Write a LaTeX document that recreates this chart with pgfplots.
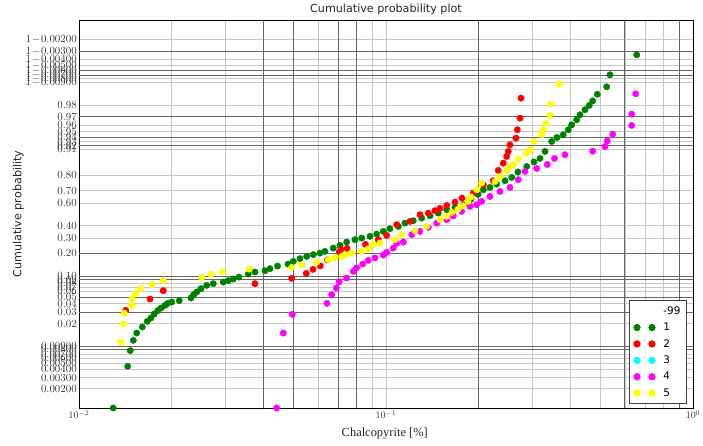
\documentclass[border=0pt]{standalone}
\usepackage{fontspec}
\setmainfont{Liberation Serif}
\newfontfamily\dejavu{DejaVu Sans}
\usepackage{pgfplots}
\pgfplotsset{compat=1.18}
\definecolor{mplgreen}{RGB}{0,128,0}
\definecolor{mplred}{RGB}{255,0,0}
\definecolor{mplcyan}{RGB}{0,255,255}
\definecolor{mplmag}{RGB}{255,0,255}
\definecolor{mplyel}{RGB}{255,255,0}
\newcommand{\om}[1]{$1\!-\!#1$}
\begin{document}
\begin{tikzpicture}
\useasboundingbox (-79bp,-38bp) rectangle (624bp,408bp);
\begin{axis}[
  scale only axis,
  width=614bp, height=388bp,
  xmode=log, xmin=0.01, xmax=1,
  y coord trafo/.code={\pgfmathparse{ln(#1/(1-#1))}},
  ymin=0.001, ymax=0.999,
  axis line style={black, line width=0.8bp},
  tick style={draw=none},
  xtick={0.01,0.1,1},
  xticklabels={$10^{-2}$,$10^{-1}$,$10^{0}$},
  minor xtick={0.02,0.03,0.04,0.05,0.06,0.07,0.08,0.09,0.2,0.3,0.4,0.5,0.6,0.7,0.8,0.9},
  ytick={0.002,0.003,0.004,0.005,0.006,0.007,0.008,0.009,0.02,0.03,0.04,0.05,0.06,0.07,0.08,0.09,0.10,0.20,0.30,0.40,0.60,0.70,0.80,0.91,0.92,0.93,0.94,0.95,0.96,0.97,0.98,0.991,0.992,0.993,0.994,0.995,0.996,0.997,0.998},
  yticklabels={$0.00200$,$0.00300$,$0.00400$,$0.00500$,$0.00600$,$0.00700$,$0.00800$,$0.00900$,$0.02$,$0.03$,$0.04$,$0.05$,$0.06$,$0.07$,$0.08$,$0.09$,$0.10$,$0.20$,$0.30$,$0.40$,$0.60$,$0.70$,$0.80$,$0.91$,$0.92$,$0.93$,$0.94$,$0.95$,$0.96$,$0.97$,$0.98$,\om{0.00900},\om{0.00800},\om{0.00700},\om{0.00600},\om{0.00500},\om{0.00400},\om{0.00300},\om{0.00200}},
  grid=both,
  major grid style={black!22, line width=0.7bp},
  minor grid style={black!22, line width=0.7bp},
  extra x ticks={0.04,0.05,0.07,0.08,0.2,0.6,0.9},
  extra x tick labels={},
  extra x tick style={grid=major, major grid style={black!60, line width=0.8bp}},
  extra y ticks={0.997,0.994,0.993,0.97,0.94,0.92,0.20,0.10,0.09,0.05,0.03,0.009,0.008},
  extra y tick labels={},
  extra y tick style={grid=major, major grid style={black!60, line width=0.8bp}},
  yticklabel style={font=\fontsize{10.5}{11}\selectfont, text=black!80, inner xsep=2bp},
  xticklabel style={font=\fontsize{10}{11}\selectfont, text=black!80, yshift=1bp},
  every axis title shift=0pt,
  title={Cumulative probability plot},
  title style={font=\dejavu\fontsize{11.2}{12}\selectfont, text=black!85, at={(axis description cs:0.5,1.026)}, anchor=center, yshift=0pt},
  xlabel={Chalcopyrite [\%]},
  xlabel style={font=\fontsize{12.5}{14}\selectfont, text=black!85, at={(axis description cs:0.498,-0.066)}, anchor=center},
  ylabel={Cumulative probability},
  ylabel style={font=\dejavu\fontsize{11.2}{12}\selectfont, text=black!85, at={(axis description cs:-0.099,0.5)}, anchor=center},
  legend style={at={(axis description cs:0.99,0.0103)}, anchor=south east, font=\dejavu\fontsize{10.5}{12}\selectfont, draw=black!75, line width=0.8bp, fill=white, row sep=3.2bp, inner xsep=4bp, inner ysep=4bp},
  legend cell align=left,
  legend image code/.code={\draw[#1, only marks] plot coordinates {(0bp,0bp) (15bp,0bp)}; \path (24bp,0bp);},
  legend entries={-99,1,2,3,4,5},
  every axis plot/.append style={only marks, mark=*, mark size=3.2bp},
]
\addlegendimage{empty legend}
% series 1 (green)
\addplot[mplgreen, mark options={draw=mplgreen, fill=mplgreen}] coordinates {
(0.01293,0.00103) (0.01441,0.00451) (0.01469,0.00786) (0.01503,0.01128) (0.01542,0.01457)
(0.01608,0.01797) (0.01669,0.02192) (0.01716,0.02458) (0.01759,0.02822) (0.01805,0.03170)
(0.01850,0.03468) (0.01906,0.03804) (0.01945,0.04072) (0.02004,0.04257) (0.02122,0.04463)
(0.02316,0.04875) (0.02364,0.05465) (0.02418,0.05964) (0.02497,0.06676) (0.02606,0.07443)
(0.02738,0.07871) (0.02952,0.08292) (0.03064,0.08678) (0.03181,0.09141) (0.03320,0.09747)
(0.03560,0.1072) (0.03743,0.1143) (0.04035,0.1193) (0.04189,0.1270) (0.04432,0.1376)
(0.04795,0.1462) (0.04990,0.1586) (0.05246,0.1718) (0.05517,0.1838) (0.05797,0.1930)
(0.06095,0.2020) (0.06328,0.2119) (0.06735,0.2321) (0.07082,0.2497) (0.07447,0.2722)
(0.07925,0.2894) (0.08334,0.3012) (0.08869,0.3142) (0.09327,0.3319) (0.09800,0.3536)
(0.1030,0.3757) (0.1097,0.3950) (0.1153,0.4234) (0.1227,0.4443) (0.1307,0.4672)
(0.1391,0.4885) (0.1480,0.5115) (0.1577,0.5416) (0.1678,0.5618) (0.1786,0.5853)
(0.1892,0.6301) (0.1994,0.6704) (0.2075,0.7062) (0.2181,0.7228) (0.2294,0.7457)
(0.2441,0.7679) (0.2567,0.7881) (0.2691,0.8189) (0.2873,0.8461) (0.3034,0.8657)
(0.3174,0.8795) (0.3295,0.9035) (0.3465,0.9303) (0.3605,0.9390) (0.3780,0.9443)
(0.3925,0.9529) (0.4026,0.9602) (0.4180,0.9665) (0.4285,0.9718) (0.4448,0.9763)
(0.4594,0.9796) (0.4713,0.9826) (0.4878,0.9862) (0.5234,0.98936) (0.5365,0.99303)
(0.6555,0.99656)
};
% series 2 (red)
\addplot[mplred, mark options={draw=mplred, fill=mplred}] coordinates {
(0.01420,0.03204) (0.01703,0.04711) (0.01882,0.06247) (0.03743,0.07871) (0.04930,0.0935)
(0.05500,0.1096) (0.05784,0.1243) (0.06109,0.1385) (0.06448,0.1659) (0.07045,0.2089)
(0.07135,0.2222) (0.07463,0.2302) (0.08575,0.2563) (0.09439,0.2894) (0.1005,0.3218)
(0.1084,0.4096) (0.1197,0.4382) (0.1290,0.4973) (0.1373,0.5115) (0.1444,0.5328)
(0.1499,0.5530) (0.1577,0.5792) (0.1678,0.6075) (0.1768,0.6408) (0.1925,0.6805)
(0.2075,0.7416) (0.2236,0.7679) (0.2321,0.8266) (0.2410,0.8607) (0.2472,0.8868)
(0.2502,0.9035) (0.2535,0.9223) (0.2651,0.9375) (0.2677,0.9529) (0.2732,0.9683)
(0.2752,0.9842)
};
\addlegendimage{only marks, mark=*, mark size=3.2bp, mplcyan, mark options={draw=mplcyan, fill=mplcyan}}
% series 4 (magenta)
\addplot[mplmag, mark options={draw=mplmag, fill=mplmag}] coordinates {
(0.04405,0.00103) (0.04629,0.01457) (0.04952,0.02792) (0.06424,0.04072) (0.06655,0.05465)
(0.06889,0.06812) (0.07040,0.0835) (0.07447,0.0944) (0.07825,0.1168) (0.08015,0.1302)
(0.08397,0.1462) (0.08757,0.1634) (0.09207,0.1759) (0.09800,0.1908) (0.1005,0.2060)
(0.1056,0.2321) (0.1084,0.2632) (0.1139,0.2722) (0.1213,0.3272) (0.1290,0.3536)
(0.1373,0.3866) (0.1463,0.4234) (0.1577,0.4531) (0.1657,0.4867) (0.1764,0.5266)
(0.1877,0.5705) (0.1974,0.5853) (0.2050,0.6134) (0.2181,0.6545) (0.2351,0.6935)
(0.2535,0.7228) (0.2697,0.7742) (0.2836,0.8215) (0.3097,0.8366) (0.3353,0.8551)
(0.3538,0.8795) (0.3828,0.8928) (0.4713,0.9044) (0.5168,0.9179) (0.5258,0.9319)
(0.5475,0.9453) (0.6314,0.9593) (0.6314,0.9724) (0.6506,0.9864)
};
% series 5 (yellow)
\addplot[mplyel, mark options={draw=mplyel, fill=mplyel}] coordinates {
(0.01370,0.01052) (0.01394,0.01995) (0.01405,0.02919) (0.01485,0.03804) (0.01492,0.04775)
(0.01530,0.05708) (0.01589,0.06676) (0.01733,0.07613) (0.01882,0.08678) (0.02510,0.0965)
(0.02691,0.1072) (0.02930,0.1143) (0.03579,0.1254) (0.04930,0.1322) (0.05314,0.1427)
(0.05947,0.1539) (0.06487,0.1669) (0.06821,0.1759) (0.07173,0.1838) (0.07352,0.1930)
(0.07731,0.2020) (0.08334,0.2119) (0.08757,0.2283) (0.09092,0.2544) (0.09560,0.2666)
(0.1070,0.2894) (0.1125,0.3272) (0.1243,0.3592) (0.1357,0.3950) (0.1499,0.4531)
(0.1577,0.4823) (0.1640,0.5177) (0.1716,0.5443) (0.1781,0.5749) (0.1850,0.6134)
(0.1892,0.6505) (0.1974,0.7062) (0.2050,0.7523) (0.2265,0.7634) (0.2351,0.7940)
(0.2472,0.8251) (0.2535,0.8461) (0.2598,0.8538) (0.2697,0.8777) (0.2858,0.8971)
(0.2945,0.9086) (0.3034,0.9303) (0.3215,0.9443) (0.3253,0.9529) (0.3320,0.9624)
(0.3421,0.9711) (0.3439,0.9807) (0.3668,0.9903)
};
\end{axis}
\end{tikzpicture}
\end{document}
